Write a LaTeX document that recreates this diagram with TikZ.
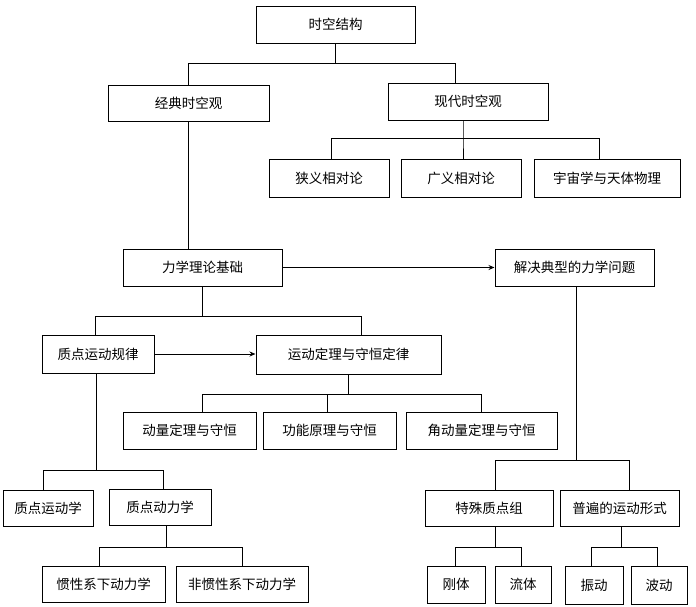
\documentclass[tikz,border=0pt]{standalone}
\usepackage{fontspec}
\newfontfamily\cjk{Noto Sans CJK SC}
\usetikzlibrary{arrows.meta}

\begin{document}
\begin{tikzpicture}[x=1pt, y=-1pt, font=\cjk\fontsize{13.5}{14}\selectfont,
  line width=1pt, >={Stealth[length=6pt,width=5pt]},
  box/.style={draw, line width=1pt, inner sep=0pt, align=center}]
  \useasboundingbox (0,0) rectangle (696,606);

  % top levels
  \node[box, minimum width=159pt, minimum height=37pt] (root) at (335.5,24.5) {时空结构};
  \node[box, minimum width=161pt, minimum height=36pt] (classic) at (188.5,103) {经典时空观};
  \node[box, minimum width=160pt, minimum height=37pt] (modern) at (468,101.5) {现代时空观};
  \node[box, minimum width=120pt, minimum height=38pt] (sr) at (329,178) {狭义相对论};
  \node[box, minimum width=120pt, minimum height=38pt] (gr) at (461,178) {广义相对论};
  \node[box, minimum width=146pt, minimum height=38pt] (cosmo) at (607,178) {宇宙学与天体物理};

  % mechanics
  \node[box, minimum width=159pt, minimum height=37pt] (mech) at (202.5,267.5) {力学理论基础};
  \node[box, minimum width=159pt, minimum height=37pt] (probs) at (574.5,267.5) {解决典型的力学问题};
  \node[box, minimum width=112pt, minimum height=38pt] (pointlaw) at (98,354) {质点运动规律};
  \node[box, minimum width=185pt, minimum height=39pt] (theorems) at (348.5,354.5) {运动定理与守恒定律};
  \node[box, minimum width=133pt, minimum height=37pt] (momentum) at (189.5,430.5) {动量定理与守恒};
  \node[box, minimum width=133pt, minimum height=37pt] (energy) at (329.5,430.5) {功能原理与守恒};
  \node[box, minimum width=151pt, minimum height=37pt] (angmom) at (481.5,430.5) {角动量定理与守恒};

  % point mass
  \node[box, minimum width=90pt, minimum height=36pt] (kinem) at (48,508) {质点运动学};
  \node[box, minimum width=102pt, minimum height=36pt] (dyn) at (160,507) {质点动力学};
  \node[box, minimum width=123pt, minimum height=36pt] (inert) at (103.5,584) {惯性系下动力学};
  \node[box, minimum width=132pt, minimum height=36pt] (noninert) at (242,584) {非惯性系下动力学};

  % typical problems
  \node[box, minimum width=128pt, minimum height=36pt] (sysgrp) at (489,508) {特殊质点组};
  \node[box, minimum width=119pt, minimum height=36pt] (forms) at (619.5,508) {普遍的运动形式};
  \node[box, minimum width=58pt, minimum height=37pt] (rigid) at (456,584.5) {刚体};
  \node[box, minimum width=56pt, minimum height=37pt] (fluid) at (523,584.5) {流体};
  \node[box, minimum width=58pt, minimum height=38pt] (vib) at (594,585) {振动};
  \node[box, minimum width=56pt, minimum height=38pt] (wave) at (659,585) {波动};

  % tree lines
  \draw (root.south) -- ++(0,20) coordinate (j1);
  \draw (classic.north) |- (j1) -| ([xshift=-13pt]modern.north);
  \draw ([xshift=-5pt]modern.south) -- ++(0,18) coordinate (j2) -- ([xshift=2pt]gr.north);
  \draw ([xshift=2pt]sr.north) |- (j2) -| ([xshift=-8pt]cosmo.north);
  \draw (classic.south) -- (classic.south |- mech.north);

  \draw[->] (mech.east) -- (probs.west);
  \draw (mech.south) -- ++(0,30) coordinate (j3);
  \draw ([xshift=-3pt]pointlaw.north) |- (j3) -| ([xshift=12.5pt]theorems.north);
  \draw[->] (pointlaw.east) -- (pointlaw.east -| theorems.west);
  \draw (theorems.south) -- ++(0,20) coordinate (j4);
  \draw ([xshift=12.5pt]momentum.north) |- (j4) -| (angmom.north);
  \draw ([xshift=-2.5pt]energy.north) -- ([xshift=-2.5pt]energy.north |- j4);

  \draw ([xshift=-2pt]pointlaw.south) -- ++(0,97) coordinate (j5);
  \draw ([xshift=-5pt]kinem.north) |- (j5) -| ([xshift=3pt]dyn.north);
  \draw ([xshift=6pt]dyn.south) -- ++(0,22) coordinate (j6);
  \draw ([xshift=-4.5pt]inert.north) |- (j6) -| (noninert.north);

  \draw ([xshift=1.5pt]probs.south) -- ++(0,174) coordinate (j7);
  \draw ([xshift=6pt]sysgrp.north) |- (j7) -| ([xshift=9.5pt]forms.north);
  \draw ([xshift=6pt]sysgrp.south) -- ++(0,21) coordinate (j8);
  \draw ([xshift=-1pt]rigid.north) |- (j8) -| ([xshift=-2pt]fluid.north);
  \draw ([xshift=1.5pt]forms.south) -- ++(0,21) coordinate (j9);
  \draw ([xshift=-3pt]vib.north) |- (j9) -| ([xshift=-2pt]wave.north);
\end{tikzpicture}
\end{document}
